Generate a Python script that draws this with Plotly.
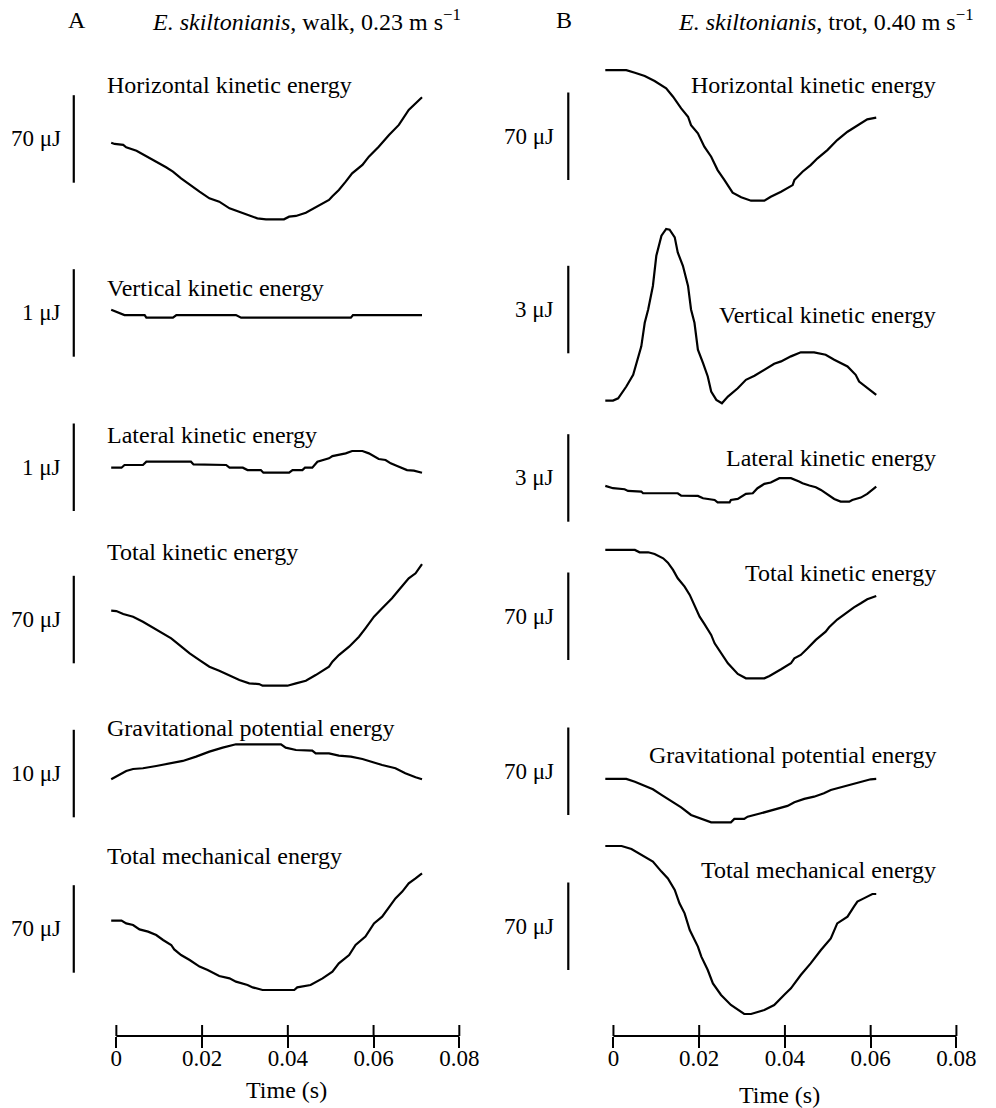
import plotly.graph_objects as go

W, H = 996, 1108
FONT = "Liberation Serif, Times New Roman, serif"
BLACK = "#000000"

# ---------------- DATA (time in s, energy in µJ above each trace's minimum) ----------------
# A: walk, 0.23 m/s
walk_hke_t = [-0.0012, -0.0004, 0.0016, 0.0023, 0.0047, 0.0070, 0.0093, 0.0116, 0.0132, 0.0151, 0.0171, 0.0194,
              0.0217, 0.0240, 0.0264, 0.0287, 0.0310, 0.0329, 0.0349, 0.0391, 0.0403, 0.0419, 0.0442, 0.0465,
              0.0484, 0.0496, 0.0504, 0.0519, 0.0535, 0.0550, 0.0574, 0.0589, 0.0612, 0.0636, 0.0659, 0.0682, 0.0713]
walk_hke = [61.3, 60.3, 59.5, 57.6, 54.9, 50.7, 46.1, 41.6, 38.1, 32.8, 27.5, 22.1, 16.8, 14.1, 8.8, 6.1, 3.5, 0.8,
            0.0, 0.0, 2.1, 2.7, 5.3, 9.6, 12.8, 15.5, 18.5, 23.5, 30.1, 36.8, 43.5, 50.1, 58.1, 67.5, 75.5, 87.5, 97.6]

walk_vke_t = [-0.0012, 0.0000, 0.0019, 0.0066, 0.0070, 0.0132, 0.0140, 0.0279, 0.0291, 0.0547, 0.0552, 0.0713]
walk_vke = [0.09, 0.07, 0.03, 0.03, 0.0, 0.0, 0.03, 0.03, 0.0, 0.0, 0.03, 0.03]

walk_lke_t = [-0.0012, 0.0012, 0.0019, 0.0062, 0.0070, 0.0174, 0.0180, 0.0256, 0.0264, 0.0295, 0.0306, 0.0337,
              0.0343, 0.0403, 0.0411, 0.0434, 0.0440, 0.0457, 0.0469, 0.0484, 0.0496, 0.0504, 0.0519, 0.0535,
              0.0550, 0.0574, 0.0589, 0.0601, 0.0612, 0.0628, 0.0640, 0.0655, 0.0671, 0.0678, 0.0694, 0.0713]
walk_lke = [0.057, 0.057, 0.088, 0.088, 0.126, 0.126, 0.095, 0.088, 0.057, 0.057, 0.030, 0.030, 0.0, 0.0, 0.030,
            0.030, 0.057, 0.057, 0.126, 0.145, 0.164, 0.190, 0.202, 0.221, 0.248, 0.248, 0.221, 0.183, 0.156,
            0.145, 0.107, 0.076, 0.050, 0.030, 0.023, 0.0]

walk_tke_t = [-0.0012, 0.0000, 0.0016, 0.0039, 0.0062, 0.0085, 0.0109, 0.0128, 0.0151, 0.0171, 0.0194, 0.0217,
              0.0240, 0.0264, 0.0287, 0.0310, 0.0333, 0.0341, 0.0399, 0.0419, 0.0442, 0.0465, 0.0496, 0.0504,
              0.0519, 0.0543, 0.0566, 0.0581, 0.0601, 0.0620, 0.0643, 0.0659, 0.0682, 0.0698, 0.0713]
walk_tke = [60.0, 59.7, 57.3, 55.2, 51.2, 46.7, 41.9, 37.9, 31.5, 25.9, 20.5, 15.2, 12.0, 8.5, 4.5, 1.9, 1.3, 0.0,
            0.0, 1.9, 4.0, 8.5, 15.2, 19.2, 24.5, 31.2, 39.2, 45.9, 55.2, 61.9, 69.9, 76.5, 85.9, 89.9, 97.3]

walk_gpe_t = [-0.0012, 0.0008, 0.0023, 0.0039, 0.0062, 0.0093, 0.0124, 0.0155, 0.0186, 0.0217, 0.0248, 0.0279,
              0.0384, 0.0395, 0.0419, 0.0457, 0.0465, 0.0496, 0.0519, 0.0547, 0.0574, 0.0597, 0.0620, 0.0651,
              0.0674, 0.0698, 0.0713]
walk_gpe = [0.0, 0.50, 0.95, 1.18, 1.26, 1.52, 1.83, 2.10, 2.59, 3.16, 3.62, 4.0, 4.0, 3.62, 3.35, 3.28, 2.97,
            2.97, 2.70, 2.59, 2.32, 1.94, 1.64, 1.26, 0.69, 0.23, 0.0]

walk_tme_t = [-0.0012, 0.0012, 0.0023, 0.0039, 0.0054, 0.0074, 0.0093, 0.0109, 0.0128, 0.0135, 0.0151, 0.0171,
              0.0194, 0.0213, 0.0240, 0.0264, 0.0279, 0.0306, 0.0318, 0.0341, 0.0415, 0.0422, 0.0453, 0.0481,
              0.0504, 0.0519, 0.0543, 0.0558, 0.0581, 0.0601, 0.0620, 0.0636, 0.0651, 0.0667, 0.0682, 0.0698, 0.0713]
walk_tme = [55.5, 55.5, 53.3, 52.0, 48.5, 46.7, 44.0, 40.0, 36.0, 32.5, 28.0, 24.0, 18.7, 16.0, 11.2, 9.3, 6.7,
            4.0, 2.1, 0.0, 0.0, 2.1, 4.0, 9.3, 14.7, 21.3, 28.0, 36.0, 42.7, 53.3, 58.7, 66.7, 73.3, 78.7, 85.3,
            89.3, 93.3]

# B: trot, 0.40 m/s
trot_hke_t = [-0.0019, 0.0030, 0.0050, 0.0073, 0.0096, 0.0123, 0.0139, 0.0158, 0.0174, 0.0181, 0.0197, 0.0212,
              0.0228, 0.0243, 0.0259, 0.0278, 0.0298, 0.0321, 0.0352, 0.0367, 0.0391, 0.0418, 0.0422, 0.0441,
              0.0460, 0.0476, 0.0499, 0.0522, 0.0546, 0.0569, 0.0592, 0.0613]
trot_hke = [104.5, 104.5, 102.4, 99.7, 95.7, 89.9, 83.2, 73.9, 67.2, 60.5, 53.9, 43.2, 35.2, 24.5, 16.5, 6.4, 2.7,
            0.0, 0.0, 3.2, 7.2, 12.5, 16.5, 23.2, 28.5, 33.9, 40.5, 48.5, 55.2, 60.5, 65.1, 66.4]

trot_vke_t = [-0.0019, -0.0001, 0.0011, 0.0030, 0.0046, 0.0057, 0.0065, 0.0073, 0.0081, 0.0092, 0.0100, 0.0112,
              0.0123, 0.0131, 0.0143, 0.0150, 0.0162, 0.0174, 0.0181, 0.0189, 0.0197, 0.0209, 0.0220, 0.0228,
              0.0240, 0.0253, 0.0267, 0.0290, 0.0309, 0.0329, 0.0352, 0.0375, 0.0391, 0.0414, 0.0437, 0.0468,
              0.0495, 0.0515, 0.0546, 0.0565, 0.0573, 0.0592, 0.0613]
trot_vke = [0.092, 0.092, 0.172, 0.575, 0.977, 1.494, 1.954, 2.759, 3.218, 4.023, 5.057, 5.747, 5.977, 5.954,
            5.690, 5.172, 4.713, 4.023, 3.218, 2.759, 1.839, 1.379, 0.920, 0.402, 0.115, 0.0, 0.230, 0.517,
            0.805, 0.943, 1.149, 1.356, 1.437, 1.609, 1.747, 1.747, 1.667, 1.494, 1.264, 0.977, 0.747, 0.517, 0.287]

trot_lke_t = [-0.0019, -0.0001, 0.0026, 0.0034, 0.0065, 0.0069, 0.0150, 0.0158, 0.0197, 0.0209, 0.0236, 0.0243,
              0.0271, 0.0274, 0.0290, 0.0309, 0.0325, 0.0336, 0.0352, 0.0367, 0.0387, 0.0414, 0.0433, 0.0441,
              0.0457, 0.0472, 0.0484, 0.0503, 0.0515, 0.0530, 0.0550, 0.0557, 0.0577, 0.0592, 0.0613]
trot_lke = [0.563, 0.483, 0.448, 0.391, 0.368, 0.310, 0.310, 0.230, 0.218, 0.138, 0.080, 0.0, 0.0, 0.080, 0.115,
            0.287, 0.310, 0.483, 0.632, 0.678, 0.828, 0.828, 0.713, 0.655, 0.575, 0.517, 0.425, 0.253, 0.115,
            0.023, 0.023, 0.080, 0.161, 0.287, 0.540]

trot_tke_t = [-0.0019, 0.0050, 0.0061, 0.0081, 0.0096, 0.0116, 0.0127, 0.0139, 0.0150, 0.0166, 0.0178, 0.0189,
              0.0201, 0.0212, 0.0228, 0.0236, 0.0251, 0.0267, 0.0290, 0.0309, 0.0352, 0.0364, 0.0391, 0.0414,
              0.0422, 0.0437, 0.0453, 0.0472, 0.0495, 0.0503, 0.0522, 0.0546, 0.0561, 0.0577, 0.0592, 0.0613]
trot_tke = [102.7, 102.7, 100.8, 100.8, 99.5, 96.0, 92.5, 86.7, 80.0, 73.3, 66.7, 58.7, 49.3, 43.5, 34.7, 28.0,
            20.0, 12.0, 3.5, 0.0, 0.0, 1.9, 7.2, 12.0, 16.0, 18.7, 24.0, 30.7, 37.3, 40.8, 47.0, 53.3, 56.8, 60.0,
            63.2, 65.9]

trot_gpe_t = [-0.0019, 0.0030, 0.0050, 0.0073, 0.0092, 0.0112, 0.0135, 0.0158, 0.0181, 0.0205, 0.0228, 0.0274,
              0.0282, 0.0305, 0.0313, 0.0344, 0.0375, 0.0406, 0.0422, 0.0445, 0.0468, 0.0491, 0.0507, 0.0530,
              0.0550, 0.0569, 0.0584, 0.0600, 0.0613]
trot_gpe = [34.7, 34.7, 32.5, 29.3, 26.4, 21.9, 17.1, 12.0, 5.9, 2.7, 0.0, 0.0, 2.7, 2.7, 4.5, 7.2, 9.9, 13.1,
            16.0, 18.7, 20.5, 23.2, 25.9, 28.0, 29.9, 31.2, 33.1, 34.4, 34.7]

trot_tme_t = [-0.0019, 0.0019, 0.0042, 0.0065, 0.0092, 0.0112, 0.0127, 0.0143, 0.0154, 0.0166, 0.0178, 0.0197,
              0.0205, 0.0220, 0.0232, 0.0251, 0.0274, 0.0305, 0.0321, 0.0352, 0.0375, 0.0398, 0.0414, 0.0437,
              0.0460, 0.0484, 0.0507, 0.0522, 0.0546, 0.0561, 0.0569, 0.0584, 0.0604, 0.0613]
trot_tme = [134.4, 134.4, 132.0, 127.2, 121.9, 113.9, 108.5, 99.2, 88.5, 80.5, 67.2, 53.9, 45.9, 35.2, 24.5, 15.2,
            7.2, 0.0, 0.0, 3.2, 7.2, 15.2, 20.5, 31.2, 40.5, 51.2, 60.5, 72.5, 77.9, 85.9, 89.9, 92.5, 96.0, 96.0]

labels = ["Horizontal kinetic energy", "Vertical kinetic energy", "Lateral kinetic energy",
          "Total kinetic energy", "Gravitational potential energy", "Total mechanical energy"]
walk_scale_bars = [70, 1, 1, 70, 10, 70]   # µJ
trot_scale_bars = [70, 3, 3, 70, 70, 70]   # µJ
tick_vals = [0, 0.02, 0.04, 0.06, 0.08]
tick_text = ["0", "0.02", "0.04", "0.06", "0.08"]

walk_series = [(walk_hke_t, walk_hke), (walk_vke_t, walk_vke), (walk_lke_t, walk_lke),
               (walk_tke_t, walk_tke), (walk_gpe_t, walk_gpe), (walk_tme_t, walk_tme)]
trot_series = [(trot_hke_t, trot_hke), (trot_vke_t, trot_vke), (trot_lke_t, trot_lke),
               (trot_tke_t, trot_tke), (trot_gpe_t, trot_gpe), (trot_tme_t, trot_tme)]

# ---------------- LAYOUT (pixel positions) ----------------
BAR_PX = 87.5        # length of every scale bar
AXIS_PX = 1036       # y of the time axes
# per row: pixel y of trace minimum, pixel y of scale-bar bottom, pixel y of label centre
walk_rows = [(219.3, 182.7, 85), (317.7, 356.7, 288.3), (472.7, 511, 435),
             (685.7, 663.3, 551.7), (779.3, 817.3, 727.5), (990, 972.7, 855.7)]
trot_rows = [(200.7, 180, 85), (403.3, 353.3, 315), (502.3, 521.7, 458.3),
             (678.3, 660, 573.3), (822.3, 815, 755), (1014, 970, 870)]

def py(p):
    return 1 - p / H

def pxx(p):
    return p / W

PX_PER_S = 4300.0
XR = (-0.004, 0.084)
cols = [
    dict(xa="x", series=walk_series, bars=walk_scale_bars, rows=walk_rows, zero_px=116.7,
         bar_x=74, val_right=62, lab_x=106, lab_anchor="left", title_x=287, title_y=1090),
    dict(xa="x2", series=trot_series, bars=trot_scale_bars, rows=trot_rows, zero_px=615.3,
         bar_x=570, val_right=557, lab_x=940, lab_anchor="right", title_x=782, title_y=1095),
]

fig = go.Figure()
shapes, annotations = [], []
layout_axes = {}
yi = 0
for ci, c in enumerate(cols):
    d0 = (c["zero_px"] + XR[0] * PX_PER_S) / W
    d1 = (c["zero_px"] + XR[1] * PX_PER_S) / W
    xname = "xaxis" if c["xa"] == "x" else "xaxis2"
    layout_axes[xname] = dict(
        domain=[d0, d1], range=list(XR), anchor="free", position=py(AXIS_PX),
        showline=False, showgrid=False, zeroline=False,
        tickvals=tick_vals, ticktext=tick_text, ticks="outside", ticklen=11, tickwidth=2,
        tickcolor=BLACK, tickfont=dict(family=FONT, size=23, color=BLACK), ticklabelstandoff=-10,
    )
    # axis line and inner halves of the tick marks
    shapes.append(dict(type="line", xref=c["xa"], yref="paper", x0=tick_vals[0], x1=tick_vals[-1],
                       y0=py(AXIS_PX), y1=py(AXIS_PX), line=dict(color=BLACK, width=2)))
    for tv in tick_vals:
        shapes.append(dict(type="line", xref=c["xa"], yref="paper", x0=tv, x1=tv,
                           y0=py(AXIS_PX), y1=py(AXIS_PX - 11), line=dict(color=BLACK, width=2)))
    annotations.append(dict(text="Time (s)", xref="paper", yref="paper", x=pxx(c["title_x"]),
                            y=py(c["title_y"]), xanchor="center", yanchor="middle", borderpad=0,
                            showarrow=False, font=dict(family=FONT, size=24, color=BLACK)))
    for ri, ((t, v), bar, (zero_px, bar_bot, lab_y)) in enumerate(zip(c["series"], c["bars"], c["rows"])):
        yi += 1
        yname = "yaxis" if yi == 1 else f"yaxis{yi}"
        yref = "y" if yi == 1 else f"y{yi}"
        s = BAR_PX / bar  # px per µJ
        layout_axes[yname] = dict(domain=[0, 1], range=[-(H - zero_px) / s, zero_px / s],
                                  visible=False, anchor=c["xa"], fixedrange=True)
        fig.add_trace(go.Scatter(x=t, y=v, xaxis=c["xa"], yaxis=yref, mode="lines",
                                 line=dict(color=BLACK, width=2.2), name=labels[ri], showlegend=False,
                                 hoverinfo="skip"))
        b0 = (zero_px - bar_bot) / s
        shapes.append(dict(type="line", xref="paper", yref=yref, x0=pxx(c["bar_x"]), x1=pxx(c["bar_x"]),
                           y0=b0, y1=b0 + bar, line=dict(color=BLACK, width=2.2)))
        annotations.append(dict(text=f"{bar} μJ", xref="paper", yref=yref, x=pxx(c["val_right"]),
                                y=b0 + bar / 2, xanchor="right", yanchor="middle", showarrow=False,
                                borderpad=0, font=dict(family=FONT, size=23, color=BLACK)))
        annotations.append(dict(text=labels[ri], xref="paper", yref="paper", x=pxx(c["lab_x"]),
                                y=py(lab_y), xanchor=c["lab_anchor"], yanchor="middle", showarrow=False,
                                borderpad=0, font=dict(family=FONT, size=24, color=BLACK)))

# panel titles
annotations += [
    dict(text="A", xref="paper", yref="paper", x=pxx(77), y=py(20), xanchor="center", yanchor="middle",
         showarrow=False, font=dict(family=FONT, size=24, color=BLACK)),
    dict(text="<i>E. skiltonianis</i>, walk, 0.23 m s<sup>−1</sup>", xref="paper", yref="paper",
         x=pxx(151), y=py(20), xanchor="left", yanchor="middle", showarrow=False, borderpad=0,
         font=dict(family=FONT, size=24, color=BLACK)),
    dict(text="B", xref="paper", yref="paper", x=pxx(566), y=py(20), xanchor="center", yanchor="middle",
         showarrow=False, font=dict(family=FONT, size=24, color=BLACK)),
    dict(text="<i>E. skiltonianis</i>, trot, 0.40 m s<sup>−1</sup>", xref="paper", yref="paper",
         x=pxx(679), y=py(20), xanchor="left", yanchor="middle", showarrow=False, borderpad=0,
         font=dict(family=FONT, size=24, color=BLACK)),
]

fig.update_layout(
    width=W, height=H, autosize=False, margin=dict(l=0, r=0, t=0, b=0, pad=0),
    paper_bgcolor="white", plot_bgcolor="rgba(0,0,0,0)", showlegend=False,
    shapes=shapes, annotations=annotations, font=dict(family=FONT, size=23, color=BLACK),
    **layout_axes,
)
fig.write_html("out.html", config={"displayModeBar": False})
